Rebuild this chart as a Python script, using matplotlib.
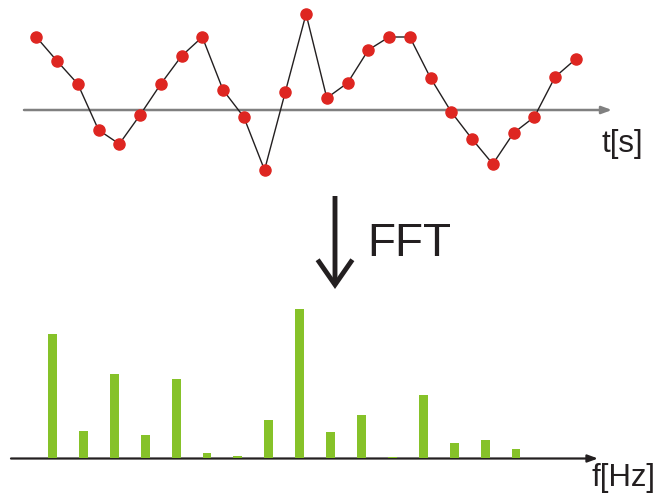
import matplotlib.pyplot as plt

# time signal samples (amplitude above the t axis, arbitrary units)
signal = [73, 49, 26, -20, -34, -5, 26, 54, 73, 20, -7, -60, 18, 96,
          12, 27, 60, 73, 73, 32, -2, -29, -54, -23, -7, 33, 51]

# FFT magnitudes, one bar per frequency bin
spectrum = [124, 27, 84, 23, 79, 5, 2, 38, 149, 26, 43, 1.5, 63, 15, 18, 9]

W, H = 659, 495
plt.rcParams['font.family'] = ['Liberation Sans', 'DejaVu Sans']
ink = '#231f20'

fig = plt.figure(figsize=(W / 100, H / 100), dpi=100)

# top: sampled signal
ax_t = fig.add_axes([0, 0, 1, 1])
ax_t.set_xlim(-36.3 / 20.75, (W - 36.3) / 20.75)
ax_t.set_ylim(110 - H, 110)
ax_t.axis('off')
ax_t.annotate('', xy=(612 / W, 1 - 110 / H), xytext=(24 / W, 1 - 110 / H),
              xycoords='figure fraction', textcoords='figure fraction',
              arrowprops=dict(arrowstyle='-|>,head_length=0.6,head_width=0.22',
                              color='#808080', lw=1.8, shrinkA=0, shrinkB=0))
ax_t.plot(range(len(signal)), signal, color=ink, lw=1.0, marker='o',
          markersize=8, markerfacecolor='#de2621', markeredgecolor='#de2621', zorder=3)

# bottom: spectrum bars
ax_f = fig.add_axes([0, 0, 1, 1])
ax_f.patch.set_alpha(0)
ax_f.set_xlim(-52.5 / 30.9, (W - 52.5) / 30.9)
ax_f.set_ylim(458 - H, 458)
ax_f.axis('off')
ax_f.annotate('', xy=(598 / W, 1 - 458.5 / H), xytext=(11 / W, 1 - 458.5 / H),
              xycoords='figure fraction', textcoords='figure fraction',
              arrowprops=dict(arrowstyle='-|>,head_length=0.6,head_width=0.22',
                              color=ink, lw=1.6, shrinkA=0, shrinkB=0))
ax_f.bar(range(len(spectrum)), spectrum, width=0.29, color='#86c229', zorder=5)

# FFT arrow between the panels
ax_t.annotate('', xy=(335 / W, 1 - 289 / H), xytext=(335 / W, 1 - 196 / H),
              xycoords='figure fraction', textcoords='figure fraction',
              arrowprops=dict(arrowstyle='->,head_length=1.8,head_width=1.25',
                              color=ink, lw=3.5, shrinkA=0, shrinkB=0,
                              joinstyle='miter', capstyle='butt'))

fig.text(367 / W, 1 - 256 / H, 'FFT', fontsize=33, color=ink, va='baseline', ha='left')
fig.text(602 / W, 1 - 144 / H, 't[s]', fontsize=22.5, color=ink, va='center', ha='left')
fig.text(592 / W, 1 - 478 / H, 'f[Hz]', fontsize=22.5, color=ink, va='center', ha='left')

fig.savefig('out.png', dpi=100, facecolor='white')
